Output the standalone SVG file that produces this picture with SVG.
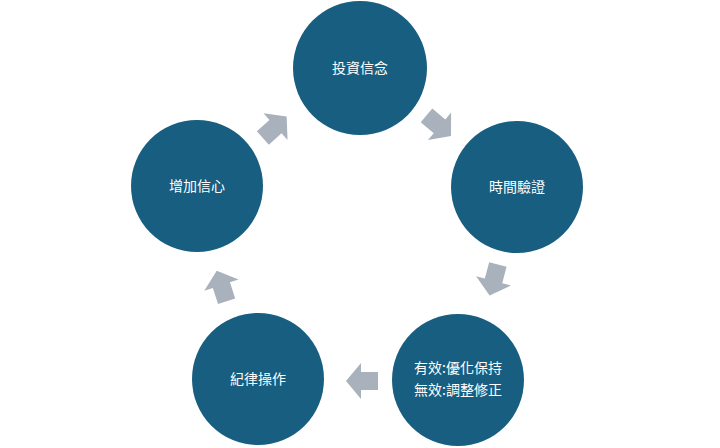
<svg xmlns="http://www.w3.org/2000/svg" width="720" height="448" viewBox="0 0 720 448">
<style>
.c{fill:#175e80}
.t{fill:#fff;font-family:"Noto Sans CJK TC",sans-serif;font-size:14px;text-anchor:middle}
.a{fill:#a8b1bc}
</style>
<defs><path id="ar" d="M-15,-9 H2 V-18 L17,0 L2,18 V9 H-15 Z"/></defs>
<rect width="720" height="448" fill="#fff"/>
<g id="connectors">
<use href="#ar" class="a" transform="translate(274,128) rotate(-42)"/>
<use href="#ar" class="a" transform="translate(438,125) rotate(40)"/>
<use href="#ar" class="a" transform="translate(494,279) rotate(105)"/>
<use href="#ar" class="a" transform="translate(363,381) rotate(180)"/>
<use href="#ar" class="a" transform="translate(222,287) rotate(-108)"/>
</g>
<g id="n1"><circle class="c" cx="360" cy="68" r="67"/><text class="t" x="360" y="73">投資信念</text></g>
<g id="n2"><circle class="c" cx="517" cy="187" r="66"/><text class="t" x="517" y="192">時間驗證</text></g>
<g id="n3"><circle class="c" cx="458" cy="380" r="66"/><text class="t" x="458" y="373">有效:優化保持</text><text class="t" x="458" y="395">無效:調整修正</text></g>
<g id="n4"><circle class="c" cx="258" cy="379" r="66"/><text class="t" x="258" y="384">紀律操作</text></g>
<g id="n5"><circle class="c" cx="197" cy="186" r="66"/><text class="t" x="197" y="191">增加信心</text></g>
</svg>
